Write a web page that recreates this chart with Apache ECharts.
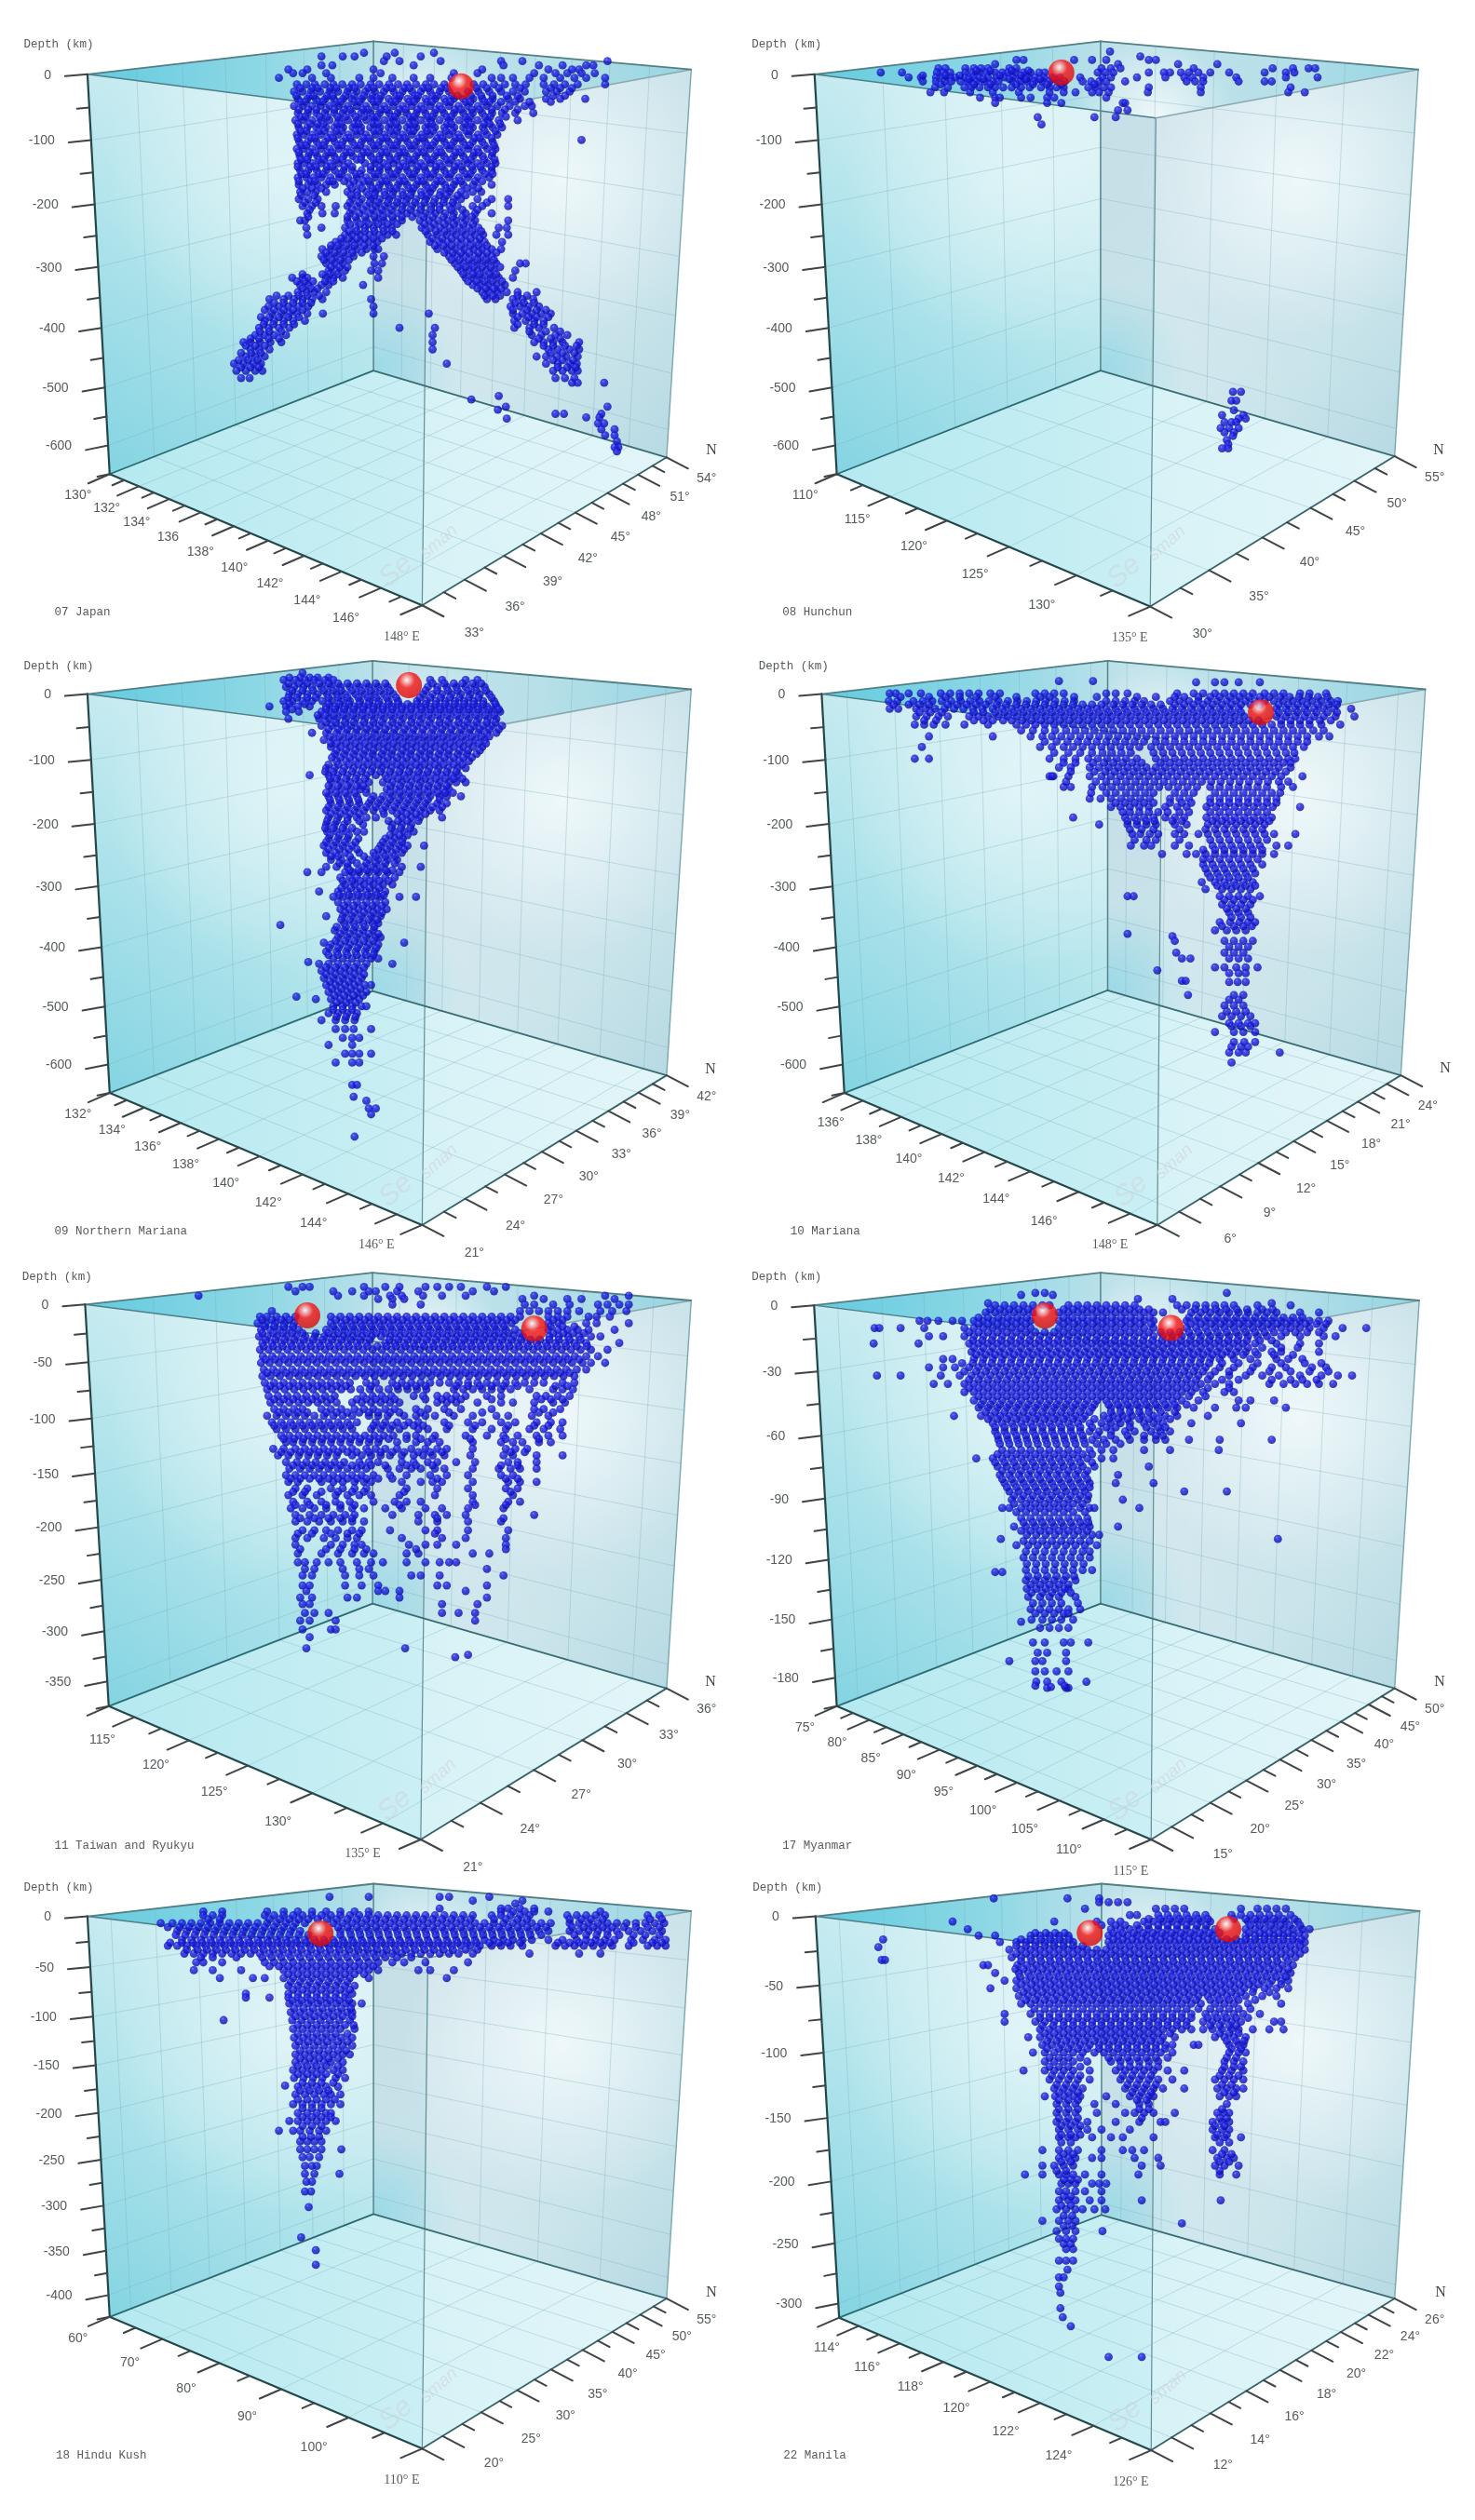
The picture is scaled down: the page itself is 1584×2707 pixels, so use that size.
<!DOCTYPE html>
<html><head><meta charset="utf-8">
<style>html,body{margin:0;padding:0;background:#fff}#c{width:1584px;height:2707px}#c canvas{filter:blur(.45px)}</style>
<script src="https://cdn.jsdelivr.net/npm/echarts@6/dist/echarts.min.js"></script>
</head><body><div id="c"></div>
<script>
// Every quake row: [apparent depth in km, view position across the box, ...]
const japanQuakes=[
[36,770,835,918],[30,680,725,750,818,890],[22,1105,1060,1285,932,845,812],[15,680,703,875,1065,1140,1190,1240,1255],
[8,610,650,790,1020,1160,1210,1225],[2,620,640,690,805,960,1010,1130,1175,1200,1230,1258],
[-6,590,660,700,760,790,830,875,910,955,1040,1060,1085,1120,1150,1185,1215,1240,1280],
[-17,628,648,666,687,705,724,745,763,784,802,823,842,861,880,901,918,940,1002,1022,1045,1068,1090,1112,1150,1172,1195,1222,1280],
[-29,622,640,658,677,697,715,735,755,773,793,812,833,851,872,890,910,930,950,990,1012,1035,1060,1085,1110,1155,1178,1205],
[-41,630,650,668,688,706,726,744,765,785,803,822,843,862,881,900,921,940,960,980,1001,1020,1042,1075,1100,1155,1185,1238],
[-53,622,641,660,678,698,716,736,755,774,794,813,832,852,871,891,910,930,950,970,990,1011,1030,1052,1078,1110,1125],
[-65,630,651,669,687,707,725,745,764,783,803,823,841,860,881,900,919,939,960,980,1000,1020,1041,1062,1090,1128],
[-77,625,642,660,680,697,717,736,756,775,792,813,832,851,872,890,911,930,950,971,990,1010,1032,1055,1095],
[-89,632,650,669,690,707,726,746,764,783,804,822,842,861,880,900,920,940,961,980,1000,1021,1042,1062],
[-101,628,643,661,679,699,716,737,755,774,794,813,833,852,871,892,909,931,950,970,991,1011,1030,1052],
[-110,1230],
[-113,633,651,670,688,708,725,745,765,784,803,822,841,862,881,899,920,940,960,979,1000,1020,1042],
[-125,628,642,660,680,698,717,735,756,774,793,813,832,851,871,891,910,930,951,970,990,1010,1031,1048],
[-137,634,652,671,689,707,727,746,764,784,803,823,842,860,880,901,920,939,960,980,1001,1021,1040],
[-149,630,644,661,680,699,716,737,772,794,812,832,853,871,890,911,930,950,970,990,1010,1030,1048],
[-161,635,652,670,690,708,727,745,765,784,803,822,842,862,880,900,921,940,960,979,1000,1020,1040],
[-173,630,648,663,680,699,718,736,755,775,793,813,831,851,872,891,910,929,950,971,990,1011,1035],
[-185,632,652,672,690,708,740,760,783,803,822,842,861,881,900,920,941,960,980,1001,1040],
[-197,635,650,668,690,735,755,775,794,813,832,851,871,891,910,932,951,975,1000,1018],
[-209,632,652,672,745,765,785,803,823,842,861,880,901,920,940,960,975,1010,1040,1075],
[-221,640,660,680,710,735,755,775,795,814,833,851,872,891,912,930,951,968,1000,1020,1075],
[-233,650,682,708,740,760,783,803,822,842,861,881,900,921,942,960,985,1005,1040],
[-245,635,645,735,755,775,795,812,832,850,888,908,927,947,965,985,1005,1075],
[-257,648,680,730,752,772,790,810,828,892,912,932,952,972,992,1012,1055,1072],
[-269,650,730,745,762,782,802,820,838,905,925,945,965,985,1005,1022,1050,1075],
[-281,710,725,745,762,780,798,910,930,948,968,988,1008,1025,1062],
[-293,682,700,718,738,755,775,792,800,925,945,962,982,1002,1020,1040,1060],
[-305,680,695,712,730,748,790,812,950,968,985,1005,1022,1040],
[-317,690,708,725,792,808,962,980,998,1015,1032,1050,1100,1112],
[-329,695,712,730,785,800,975,992,1010,1028,1045,1090],
[-341,618,640,650,690,705,725,800,985,1002,1020,1038,1055,1085],
[-353,635,652,680,695,768,1000,1015,1032,1050,1068],
[-365,630,648,665,690,1020,1035,1052,1072,1095,1135],
[-377,570,600,622,640,660,682,785,1030,1048,1085,1105,1128],
[-389,568,590,610,632,652,790,1080,1100,1118,1140],
[-401,575,595,612,628,650,683,790,907,1085,1105,1125,1145,1165],
[-413,560,580,600,620,645,1088,1112,1130,1150],
[-425,548,568,590,612,845,920,1088,1120,1140,1172],
[-437,540,560,580,605,915,1125,1145,1175,1200],
[-449,515,530,550,572,595,915,1130,1150,1170,1190,1225],
[-461,530,548,570,915,1160,1180,1205,1225],
[-473,520,540,560,1135,1155,1178,1198,1222],
[-485,495,515,535,552,945,1155,1180,1205,1220],
[-497,500,520,540,555,1170,1190,1210,1222],
[-509,510,528,1175,1195,1215],[-517,1210,1222,1278],
[-539,1055],[-545,997],[-557,1070,1285],[-562,1053],[-569,1175,1193,1272],[-575,1240,1268],[-577,1072],
[-585,1265,1278],[-595,1272,1300],[-605,1280,1300],[-615,1305],[-625,1308,1300],[-632,1305]];
const japanMore=[
[-23,635,661,672,699,711,738,750,779,790,817,829,856,866,895,906,933,945,1008,1030,1055,1100,1165,1185,1210],
[-36,627,655,663,692,704,731,749,770,788,806,838,846,877,884,915,925,956,968,996,1018,1042,1072,1095,1170,1195],
[-46,636,646,675,683,712,721,750,760,790,799,828,837,866,876,904,914,944,953,985,995,1025,1036,1060,1090,1120,1165],
[-59,632,652,669,690,707,728,741,768,779,806,818,845,858,883,896,922,935,962,975,998,1015,1040,1068,1095],
[-71,637,646,676,692,714,731,752,770,789,798,828,836,867,876,905,915,945,955,985,995,1026,1037,1070],
[-83,630,656,672,684,713,722,750,759,790,799,826,838,866,877,905,914,946,955,984,996,1024,1036,1058],
[-95,636,648,675,686,712,723,752,763,791,801,827,839,867,875,904,916,943,957,986,994,1025,1048],
[-107,630,658,666,694,704,732,741,770,780,809,818,846,857,886,895,925,936,964,974,1004,1015,1040],
[-119,638,648,675,685,714,723,750,762,790,800,828,838,867,877,905,915,945,955,985,994,1025,1045],
[-131,632,655,667,694,703,732,742,769,779,808,818,846,856,885,896,925,934,964,975,1003,1013,1042],
[-143,637,650,675,685,712,724,755,764,790,802,826,839,866,876,906,915,945,955,985,996,1024,1046],
[-155,630,657,668,692,703,729,745,784,803,820,845,858,884,897,922,935,962,976,998,1016,1040],
[-167,638,648,675,684,716,722,753,762,792,800,828,837,867,876,904,916,944,954,986,995,1026,1042],
[-179,632,657,666,696,704,728,748,770,780,808,818,846,856,885,895,925,934,964,975,1005,1020],
[-191,640,660,680,745,766,788,800,826,838,866,875,906,915,945,955,988,1012],
[-203,637,665,742,756,780,792,815,829,853,868,892,905,930,945,968,985],
[-215,645,668,740,760,782,800,820,840,858,878,898,918,938,958,1030],
[-227,655,745,768,788,808,828,850,868,890,912,930,955,978,1010],
[-239,652,735,752,772,792,810,830,850,872,896,915,938,958,978,998],
[-251,740,762,780,800,820,840,898,918,940,960,980,1000],
[-263,738,755,772,792,812,830,900,922,940,958,978,998,1018],
[-275,722,738,755,772,790,808,915,935,955,975,995,1015],
[-287,700,715,732,750,770,790,920,938,955,975,995,1012,1030],
[-299,690,708,726,745,765,940,958,975,992,1012,1030,1050],
[-311,685,702,720,738,955,972,992,1010,1028,1045],
[-323,700,718,735,968,985,1002,1020,1038,1058],
[-335,640,682,698,715,980,1000,1015,1035,1050],
[-347,628,645,662,688,705,990,1008,1025,1042,1062],
[-359,640,658,672,1010,1028,1045,1060],
[-371,585,610,632,650,675,1025,1042,1058,1095,1115],
[-383,580,600,620,640,658,1090,1108,1130],
[-395,560,580,600,620,640,1085,1115,1135,1155],
[-407,552,570,590,610,632,1095,1118,1135,1160],
[-419,558,578,600,622,1095,1130,1150],[-431,550,570,595,1120,1155,1185],[-443,530,548,568,590,1140,1165,1185],
[-455,520,540,560,1150,1170,1195,1220],[-467,510,532,552,1165,1190,1215],[-479,505,525,545,1170,1190,1212],[-491,510,530,548,1180,1200,1218]];
const japanEvents=[[975,-20]];
const hunchunQuakes=[
[38,788],[30,852],[24,590,605,712,750,780,870,885],[17,545,805,932,1015],
[10,425,440,482,500,515,530,575,590,770,790,810,965,1132,1175,1208,1222],
[3,303,348,422,435,450,482,497,512,528,545,560,572,588,605,620,638,650,762,778,795,870,902,915,938,955,975,1000,1040,1160,1178,1115],
[-5,362,388,420,435,450,462,482,498,512,530,548,565,582,598,615,630,648,665,682,725,772,790,845,905,945,962,985,1055,1160,1227],
[-12,392,420,438,452,472,488,505,522,540,552,582,598,612,628,645,660,678,692,730,748,765,780,820,950,968,985,1060,1115,1130],
[-22,418,445,480,495,512,530,545,562,580,600,618,642,660,675,690,742,758,775,790,870,980,1170],
[-30,408,437,492,540,595,660,690,715,750,765,785,868,980,1165,1200],
[-39,513,545,555,600,620,655,670,780],[-48,545,655,685,815,820],[-60,805,825],[-72,635,755,800],[-84,643],
[-532,1048,1065],[-547,1045,1055],[-563,1050],[-571,1025,1070],[-577,1075,1060],[-583,1030,1045,1055],[-593,1022,1040,1060],[-600,1030,1050],[-606,1048],[-613,1035],[-620,1038],[-627,1025,1038]];
const hunchunMore=[[-8,490,520,575,610,640,670],[-17,430,500,535,590,625,655,685,755],[6,505,535,580,615],[-2,392,440,470,555,600]];
const hunchunEvents=[[685,3]];
const nMarianaQuakes=[
[36,640],[28,612,635,655,672,695],[24,600,625,645,665,688,705,910,935,985,1010],
[12,605,622,642,660,680,700,720,740,760,780,800,820,905,925,945,965,985,1005,1025],
[0,612,630,650,672,692,712,730,752,772,792,812,832,895,915,935,955,975,995,1015,1035],
[-12,600,618,640,660,682,702,722,740,762,782,802,822,842,882,902,922,942,962,982,1002,1022,1045],
[-21,570,605,630,655,690,710,730,750,770,790,810,830,850,870,890,910,930,950,970,990,1010,1030,1050],
[-30,605,632,680,700,720,740,760,780,800,820,840,860,880,900,920,940,960,980,1000,1020,1040,1058],
[-42,610,675,695,712,732,752,772,792,812,832,852,872,892,912,932,952,972,992,1012,1032,1050],
[-54,680,702,722,742,762,782,802,822,842,862,882,902,922,942,962,982,1002,1022,1040,1062],
[-66,660,690,712,732,752,772,792,812,832,852,872,892,912,932,952,972,992,1012,1030,1050],
[-78,685,705,725,745,765,785,805,825,845,865,885,905,925,945,965,985,1005,1025],
[-90,700,720,740,760,780,800,820,840,860,880,900,920,940,960,980,1000,1020],
[-102,708,728,748,768,788,808,828,848,868,888,908,928,948,968,988,1008],
[-114,712,732,752,772,792,812,832,852,872,892,912,932,952,972,992],
[-126,690,708,728,748,768,788,808,828,848,868,888,908,928,948,968,985],
[-138,655,695,715,735,755,775,795,815,835,855,875,895,915,935,955,970],
[-150,700,720,740,760,780,810,830,850,870,890,910,930,950,965,985],
[-162,702,722,742,762,775,818,838,858,878,898,918,938,950],
[-174,695,715,735,755,790,810,830,850,870,890,910,930,945,975],
[-186,700,720,740,760,780,800,820,840,860,880,900,925,945],
[-198,690,710,730,750,770,790,810,830,850,870,890,910,930],
[-210,695,715,735,755,775,795,850,870,888,935],
[-222,690,708,728,768,830,850,870],[-234,692,712,732,755,770,835,855,875],
[-246,695,715,735,758,815,835,852],[-258,685,705,725,745,805,825,845,862,897],
[-270,690,710,730,760,790,810,830,850],[-282,700,722,745,780,800,820,840],
[-294,690,712,735,770,790,810,850,890],[-303,650,680,730,745,760,780,800,820,845],
[-312,720,740,755,775,795,815,835],[-324,730,750,770,790,810,830],
[-336,675,715,735,755,775,795,815],[-345,705,725,745,765,785,805,845,880],
[-354,715,735,755,775,795,815],[-366,720,738,758,778,798,818],
[-378,690,725,745,765,785,805],[-390,728,748,768,788,800],[-393,593],
[-402,708,728,748,768,790],[-414,715,735,755,775,795,805],[-423,685,855],
[-426,700,720,740,760,780,800],[-438,690,712,732,752,772,792],
[-450,705,725,745,765,785,800],[-456,652],[-459,675,695,715,735,755,775,830],[-471,680,700,720,740,760],
[-483,685,705,725,745,765],[-495,690,710,730,750,772,785],[-507,695,715,735,755,775],[-515,627],
[-519,700,720,740,760,668],[-531,705,725,745,765,775],[-543,695,715,735,755],[-555,680,710,730,750],
[-570,710,730,748,785],[-585,725,745,760],[-597,745,695],[-612,730,745,760,785],[-627,745,710,760],
[-665,745,755],[-685,748],[-692,775],[-705,780,795],[-715,785],[-753,750]];
const nMarianaMore=[
[18,610,632,650,675,695,715,735,755,775,795,815,915,940,960,978,1000,1018],
[6,618,640,662,685,705,722,745,765,785,805,825,900,925,948,968,990,1008,1028],
[-6,610,628,650,668,695,715,735,758,778,796,818,838,888,910,932,952,972,992,1012,1040],
[-17,612,645,695,718,738,760,780,800,822,842,862,882,900,922,942,962,982,1002,1022,1048],
[-26,618,690,708,728,748,768,790,810,830,850,870,892,912,932,952,972,992,1012,1035,1055],
[-36,672,688,706,726,746,766,786,806,826,846,866,886,906,926,946,966,986,1006,1026,1045],
[-48,690,710,730,748,770,790,808,830,848,870,888,908,930,948,970,988,1008,1030,1048],
[-60,695,716,735,755,776,795,815,835,856,875,895,916,935,955,976,995,1015,1035,1055],
[-72,698,718,738,758,778,798,818,838,858,878,898,918,938,958,978,998,1018,1035],
[-84,700,712,732,752,772,792,812,832,852,872,892,912,932,952,972,992,1012,1028],
[-96,712,732,752,772,790,812,830,852,870,892,910,932,950,972,990,1015],
[-108,702,720,740,760,780,800,820,840,860,880,900,920,940,960,980,998],
[-120,695,716,738,758,778,800,818,840,858,880,898,920,938,960,978],
[-132,688,705,725,745,765,785,805,825,845,865,885,905,925,945,965],
[-144,698,712,732,752,772,820,842,860,882,900,922,942,960,978],
[-156,695,715,735,755,768,826,846,866,886,906,926,945],
[-168,690,710,730,750,775,825,845,865,885,905,925,942,958],
[-180,698,718,738,758,785,805,825,845,865,885,905,930],
[-192,695,715,735,755,775,795,815,835,855,875,895,915,935],
[-204,700,720,740,760,812,840,860,880,900],[-216,692,712,735,760,822,842,862,885],
[-228,688,705,725,745,828,848,868],[-240,698,718,738,825,845,862],[-252,690,710,730,752,810,830,850],
[-264,695,718,738,755,800,818,838,855],[-276,700,715,740,770,795,815,835],[-288,718,735,755,775,795,815,835],
[-300,740,758,776,796,816,830],[-318,725,745,762,782,802,822],[-330,722,742,762,782,802],
[-342,718,738,758,778,798,812],[-360,728,748,768,788,808],[-372,730,750,770,790,808],[-384,722,740,760,780,798],
[-396,712,732,752,772,792],[-408,720,740,760,780,800],[-420,710,730,750,770,790],[-432,696,716,736,756,776,796],
[-444,695,715,735,755,775,790],[-465,690,710,730,750,770],[-477,690,710,730,750,770],[-489,698,718,738,758],
[-501,702,722,742,762],[-513,708,728,748,768],[-525,712,732,752],[-537,705,725,745],[-549,712,732,752]];
const nMarianaEvents=[[865,15]];
const marianaQuakes=[
[22,680,752],[20,970,1010,1030,1060,1105],
[1,322,335,362,388,430,450,470,490,510,535,555,630,650,670,690,780,800,825,930,965,985,1010,1030,1050,1070,1090,1115,1135,1155,1190,1210,1245],
[-12,320,338,372,392,412,432,452,472,492,512,532,552,572,592,612,632,652,672,692,712,780,800,820,840,860,915,935,955,975,995,1015,1035,1055,1075,1095,1115,1135,1155,1175,1195,1215,1235,1255,1270],
[-25,322,340,378,398,418,438,458,478,498,518,540,560,580,600,620,640,660,680,700,720,740,760,780,800,820,840,860,880,900,920,940,960,980,1000,1020,1040,1060,1140,1160,1180,1200,1220,1240,1262,1298],
[-38,378,400,425,445,490,510,530,552,572,592,612,632,652,672,692,712,732,752,772,792,812,832,852,872,892,912,932,952,972,992,1012,1032,1052,1072,1140,1160,1180,1200,1220,1240,1265,1305],
[-52,375,395,415,440,480,530,590,610,630,650,670,690,710,730,750,770,790,810,830,850,870,890,910,930,950,970,990,1010,1030,1050,1070,1090,1110,1130,1150,1170,1190,1210,1235,1275],
[-72,405,540,620,645,665,685,705,725,745,765,785,805,825,845,865,885,905,925,945,965,985,1005,1025,1045,1065,1085,1105,1125,1145,1165,1185,1205,1230,1252],
[-90,390,640,665,690,710,730,750,770,790,810,830,850,875,895,915,935,955,975,995,1015,1035,1055,1075,1095,1115,1135,1155,1175,1198],
[-110,375,405,660,690,715,742,762,782,802,822,845,885,905,925,945,965,985,1005,1025,1045,1065,1085,1105,1125,1145,1165,1180],
[-125,680,705,745,765,785,805,825,845,865,885,905,925,945,965,985,1005,1025,1045,1065,1085,1105,1125,1145,1170],
[-140,660,665,668,700,745,770,790,810,830,850,870,890,910,930,950,970,990,1010,1030,1050,1070,1090,1110,1130,1150,1195],
[-158,690,705,750,772,792,812,832,852,872,892,912,932,952,972,1000,1020,1040,1060,1080,1100,1120,1150,1175],
[-178,745,768,790,812,832,852,872,915,935,955,1000,1020,1040,1060,1080,1100,1120,1140],
[-192,790,810,830,850,870,905,930,950,992,1012,1032,1052,1072,1092,1112,1132,1190],
[-210,710,820,840,860,880,905,925,945,992,1012,1032,1052,1072,1092,1112,1130],
[-222,765,825,845,865,885,925,950,995,1015,1035,1055,1075,1095,1115],
[-238,835,852,872,890,925,945,975,995,1015,1035,1055,1075,1095,1115,1135,1180],
[-258,832,860,875,925,955,1005,1025,1045,1065,1085,1105,1140,1165],
[-272,898,950,970,990,1010,1030,1050,1070,1090,1110,1135],
[-290,985,1005,1025,1045,1065,1085,1110],[-305,995,1015,1035,1055,1075,1095],
[-320,982,1010,1030,1050,1070,1090],[-332,990,1025,1045,1065,1085],
[-344,825,838,1020,1040,1060,1080,1105],[-358,1025,1045,1065,1085],[-372,1040,1060,1080],
[-388,1020,1042,1062,1080,1095],[-402,1010,1035,1055,1075],[-408,825],[-412,920],
[-420,925,1030,1050,1070,1090],[-440,1030,1050,1070,928],[-450,940,958,1040,1060,1080],
[-465,1010,1030,1055,1075,1100],[-470,888],[-490,1040,1058,1075],[-488,940,948],
[-512,953,1050,1070],[-530,1030,1050,1070],[-548,1025,1045,1065,1085],[-560,1040,1060,1080,1095],
[-575,1010,1050,1070,1095],[-592,1050,1072,1095],[-610,1040,1060,1075,1147],[-627,1045]];
const marianaMore=[
[-5,345,405,440,470,505,545,590,640,660,712,760,845,885,925,945,975,1000,1020,1042,1062,1082,1105,1125,1148,1168,1188,1208,1228,1248],
[-18,330,362,385,405,445,465,485,505,525,548,568,590,610,630,650,670,690,710,730,750,770,795,815,835,855,875,895,925,945,965,985,1005,1025,1045,1065,1085,1105,1145,1165,1185,1205,1228,1250,1268],
[-31,385,408,432,500,520,545,565,585,605,625,645,665,685,705,725,745,765,785,805,825,845,865,885,905,925,945,965,985,1005,1025,1045,1065,1145,1165,1185,1205,1225,1248,1268],
[-45,395,420,500,520,540,562,580,602,622,642,662,682,702,722,742,762,782,802,822,842,862,882,902,922,942,962,982,1002,1022,1042,1062,1082,1102,1150,1170,1190,1210,1232,1255],
[-62,600,625,650,672,695,715,735,755,775,795,815,835,855,875,895,915,935,955,975,995,1015,1035,1055,1075,1095,1115,1135,1155,1175,1195,1218,1240],
[-81,650,675,698,720,740,760,780,800,820,840,860,885,905,925,945,965,985,1005,1025,1045,1065,1085,1105,1125,1145,1165,1185,1205],
[-100,670,700,725,750,772,792,812,832,880,900,920,940,960,980,1000,1020,1040,1060,1080,1100,1120,1140,1160,1178],
[-117,690,715,752,775,795,815,835,855,895,915,935,955,975,995,1015,1035,1055,1075,1095,1115,1135,1155,1170],
[-132,705,755,778,798,818,838,858,878,898,918,938,958,978,998,1018,1038,1058,1078,1098,1118,1138,1160],
[-149,695,758,780,802,822,842,862,882,902,922,942,962,982,1002,1022,1042,1062,1082,1102,1122,1145,1165],
[-168,748,780,800,822,842,862,880,925,945,965,1010,1030,1050,1070,1090,1110,1130,1148],
[-185,800,820,840,860,880,915,940,960,1000,1020,1040,1060,1080,1100,1120,1140],
[-201,815,830,850,870,890,910,935,955,1000,1020,1040,1060,1080,1100,1120],
[-216,825,845,865,882,920,940,1005,1025,1045,1065,1085,1105,1125],
[-230,830,855,880,935,990,1010,1030,1050,1070,1090,1110],
[-248,840,865,885,935,1000,1020,1040,1060,1080,1100,1120],[-265,985,1010,1030,1050,1070,1090,1110],
[-281,985,1000,1020,1040,1060,1080,1100],[-297,990,1010,1030,1050,1070,1090],[-312,1000,1020,1040,1060,1080],
[-326,1015,1035,1055,1075,1095],[-350,1030,1050,1070,1090],[-365,1035,1055,1075],[-380,1045,1065,1085],
[-395,1025,1050,1070,1088],[-430,1040,1060,1080],[-475,1040,1060,1075],[-520,1040,1060],[-540,1035,1055,1075],
[-565,1045,1065,1085],[-600,1045,1065,1080]];
const marianaEvents=[[1107,-31]];
const taiwanQuakes=[
[16,610,640,655,770,815,845,900,925,950,975,1030,1070],[12,625,705,745,780,795,840,885,1000,1045],
[8,420,715,770,825,850,895,935,985,1130,1280,1330],[5,800,830,855,1105,1150,1200,1230,1300],
[0,890,830,1110,1130,1170,1205,1265,1285,1310,1330],[-6,575,1100,1120,1140,1160,1180,1200,1225,1270,1295,1325],
[-11,550,565,585,605,625,700,720,740,760,780,800,820,840,860,880,900,920,940,960,980,1000,1020,1040,1060,1080,1100,1160,1180,1200,1245,1262,1290],
[-17,545,562,582,602,622,700,722,742,762,782,802,822,842,862,882,902,922,942,962,982,1002,1022,1042,1062,1082,1160,1182,1240,1262,1330],
[-23,552,572,592,612,632,690,710,730,750,770,790,810,830,850,870,890,910,930,950,970,990,1010,1030,1050,1070,1090,1160,1180,1200,1222,1245,1300],
[-29,548,566,586,606,626,646,666,686,706,726,746,766,786,806,826,846,866,886,906,926,946,966,986,1006,1026,1046,1066,1086,1106,1162,1182,1202,1225,1250,1270],
[-35,555,575,595,615,635,655,675,695,715,735,755,775,815,835,855,875,895,915,935,955,975,995,1015,1035,1055,1075,1095,1115,1135,1155,1175,1195,1215,1240,1310],
[-41,550,568,588,608,628,648,668,688,708,728,748,768,788,808,828,848,868,888,908,928,948,968,988,1008,1028,1048,1068,1088,1108,1128,1148,1168,1188,1208,1228,1250,1285],
[-47,556,576,596,616,636,656,676,696,716,736,756,776,796,816,836,856,876,896,916,936,956,976,996,1016,1036,1056,1076,1096,1116,1136,1156,1176,1196,1216,1240,1265],
[-53,552,570,590,610,630,650,670,690,710,730,750,770,790,810,830,850,870,890,910,930,950,970,990,1010,1030,1050,1070,1090,1110,1130,1150,1170,1190,1210,1232,1250,1280],
[-59,558,578,598,618,638,658,678,698,718,738,758,778,798,818,838,858,878,898,918,938,958,978,998,1018,1038,1058,1078,1098,1118,1138,1158,1178,1198,1220,1240],
[-65,555,572,592,612,632,652,672,692,712,732,752,772,792,812,832,852,872,892,912,932,952,972,992,1012,1032,1052,1072,1092,1112,1132,1152,1172,1192,1215],
[-71,560,580,600,620,640,660,680,700,720,740,775,795,830,850,870,890,910,930,950,970,990,1010,1030,1050,1070,1090,1110,1130,1150,1190,1215],
[-77,565,582,602,622,642,662,682,702,722,742,762,782,802,822,842,862,882,902,960,980,1000,1020,1040,1060,1080,1120,1170,1190,1212],
[-83,568,588,608,628,648,668,688,708,768,788,808,828,875,895,925,945,965,985,1030,1060,1135,1155,1180,1205],
[-89,572,592,612,632,652,672,692,712,745,765,785,805,825,845,925,945,965,1010,1060,1085,1130,1170,1195],
[-95,580,600,622,640,680,700,722,750,770,790,815,835,880,905,940,975,1040,1130,1150,1185],
[-101,565,585,605,625,645,665,685,705,725,745,780,800,820,855,880,900,920,960,1000,1050,1075,1125,1160],
[-107,575,595,615,635,655,675,695,715,735,755,795,815,840,865,885,940,990,1020,1060,1090,1135,1165,1190],
[-113,585,605,625,645,665,685,705,725,745,785,805,825,845,885,905,945,1000,1040,1070,1120,1150,1185],
[-119,595,612,632,652,672,692,712,732,752,772,792,812,832,860,880,920,985,1030,1065,1095,1135,1160,1190],
[-125,605,620,640,660,680,700,720,740,760,780,800,840,880,905,930,1000,1060,1085,1105,1140,1165],
[-131,578,600,625,645,665,685,705,725,745,775,795,815,840,870,900,925,945,1000,1070,1090,1115],
[-137,588,610,632,652,672,692,712,745,765,785,805,825,850,875,895,915,940,995,1065,1085,1135,1190],
[-143,605,628,648,668,688,708,728,760,780,800,850,875,905,925,965,1005,1075,1095,1135],
[-149,612,635,655,675,695,715,735,755,775,820,845,870,890,920,940,1000,1055,1080,1100,1135],
[-155,605,625,645,665,685,705,725,745,765,790,825,860,910,945,990,1060,1085],
[-161,610,630,680,705,725,750,770,785,850,890,915,935,1000,1075,1100,1135],
[-167,625,650,700,725,750,775,860,925,990,1070,1095],[-173,610,640,670,710,735,760,785,845,920,1000,1085],
[-179,620,650,680,710,740,790,835,860,890,1000,1075,1100],[-185,615,640,665,690,720,745,770,815,850,900,935,990,1065],
[-191,625,655,680,705,730,750,830,885,920,945,985,1130],[-197,625,650,675,700,725,745,770,885,925,990,1060],
[-205,640,665,690,715,745,765,825,900,925,990,1075],[-212,625,650,685,710,735,755,850,935,985,1070],
[-218,625,700,725,750,765,865,900,925,965,1070],[-226,630,680,715,745,770,790,860,885,1000,1035],
[-234,630,645,670,695,720,755,785,810,860,900,930,950,965],[-240,645,665,725,760,780,1030],
[-246,640,660,730,760,790,870,890,930,1065],[-255,640,655,730,765,800,925,945,1030],
[-260,648,800,815,845,985],[-266,635,660,735,755,845,1030],[-272,640,655,935,1010],[-280,645,665,695,935,970,1005],
[-287,635,655,710,1005],[-295,640,700,710],[-302,655],[-312,648,857],[-318,990],[-320,963]];
const taiwanMore=[
[-14,555,575,595,612,710,732,752,772,792,812,832,852,872,892,912,932,952,972,992,1012,1032,1052,1072,1090,1170,1190],
[-20,560,580,600,620,705,726,746,766,786,806,826,846,866,886,906,926,946,966,986,1006,1026,1046,1066,1165,1190,1215],
[-26,555,578,598,618,640,668,695,716,736,756,776,796,816,836,856,876,896,916,936,956,976,996,1016,1036,1056,1076,1100,1170,1192,1212,1235],
[-32,562,582,602,622,642,662,682,702,722,742,762,782,824,842,862,882,902,922,942,962,982,1002,1022,1042,1062,1082,1102,1122,1142,1162,1182,1205,1228],
[-38,558,578,598,618,638,658,678,698,718,738,758,778,798,818,838,858,878,898,918,938,958,978,998,1018,1038,1058,1078,1098,1118,1138,1158,1178,1198,1220,1242],
[-50,562,582,602,622,642,662,682,702,722,742,762,782,802,822,842,862,882,902,922,942,962,982,1002,1022,1042,1062,1082,1102,1122,1142,1162,1182,1202,1225],
[-62,565,585,605,625,645,665,685,705,725,745,765,785,805,825,845,865,885,905,925,945,965,985,1005,1025,1045,1065,1085,1105,1125,1145,1165,1185,1205],
[-74,572,592,612,632,652,672,692,712,732,785,840,860,880,900,965,990,1015,1040,1065,1095,1175,1200],
[-86,580,600,620,640,660,680,700,755,775,795,815,835,900,935,955,975,1040,1145,1165,1190],
[-98,590,610,630,650,690,712,735,760,780,800,825,845,890,950,1020,1140,1170],
[-110,580,600,620,640,660,680,700,720,740,790,810,830,855,875,895,950,1005,1075,1130,1160],
[-122,600,622,642,662,682,702,722,742,762,782,802,822,860,890,915,995,1070,1140],
[-134,595,615,635,655,675,695,715,735,755,780,805,830,855,885,910,935,1080,1110],
[-146,620,640,660,680,700,720,745,765,785,815,860,880,915,1060,1095],
[-158,615,635,655,675,695,715,735,755,775,800,830,925,1070,1095],[-170,620,645,680,715,745,770,855,1080],
[-182,625,655,690,720,750,845,1005,1070],[-194,635,665,695,720,745,925,1065],[-208,630,660,700,735,760,920],
[-222,635,690,720,750,775,880,1070]];
const taiwanEvents=[[650,-10],[1130,-22]];
const myanmarQuakes=[
[6,630,650,1035],[5,600,667],[3,847,920],[1,530,1130],[0,545,565,585,605,625,645,660,700,720,740,760,780,800,820,840,930,950,970,990,1010,1030,1050,1100,1170],
[-3.5,525,545,565,585,605,625,680,700,720,740,760,780,800,820,840,860,880,900,960,980,1000,1020,1040,1060,1080,1100,1120,1140,1190,1230],
[-7.5,385,402,425,455,475,500,520,540,560,580,600,620,680,700,720,740,760,780,800,820,840,860,880,950,970,990,1010,1030,1050,1070,1090,1110,1130,1150,1170,1190,1210,1230,1250],
[-11,290,300,345,395,480,500,520,540,560,580,600,620,680,700,720,740,760,780,800,820,840,860,880,950,970,990,1010,1030,1050,1070,1090,1110,1130,1150,1170,1190,1210,1240,1280,1330],
[-15,405,435,480,500,520,540,560,580,600,620,640,660,680,700,720,740,760,780,800,820,840,860,880,900,920,940,960,980,1000,1020,1040,1060,1080,1100,1120,1150,1190,1240,1265],
[-18.5,288,383,490,510,530,550,570,590,610,630,650,670,690,710,730,750,770,790,810,830,850,870,890,910,930,950,970,990,1010,1030,1050,1070,1095,1140,1190,1230],
[-22.5,495,515,535,555,575,595,615,635,655,675,695,715,735,755,775,795,815,835,855,875,895,915,935,955,975,995,1015,1035,1055,1075,1095,1130,1150,1230],
[-26,435,455,500,520,540,560,580,600,620,640,660,680,700,720,740,760,780,800,820,840,860,880,900,920,940,960,980,1000,1020,1050,1085,1140,1165,1195],
[-30,405,435,460,490,510,530,550,570,590,610,630,650,670,690,710,730,750,770,790,810,830,850,870,890,910,930,950,970,990,1020,1050,1090,1130,1160,1215,1245],
[-34,295,345,430,470,495,515,535,555,575,595,615,635,655,675,695,715,735,755,775,795,815,835,855,875,895,915,935,955,975,1000,1040,1075,1110,1145,1190,1235,1270,1300],
[-38,415,445,480,500,520,540,560,580,600,620,640,660,680,700,720,740,760,780,800,820,840,860,880,900,920,940,960,980,1010,1040,1125,1155,1180,1205,1230,1260],
[-42,480,500,520,540,560,580,600,620,640,660,680,700,720,740,760,780,800,820,840,860,880,900,920,940,960,985,1030,1050],
[-46,500,520,540,560,580,600,620,640,660,680,700,720,740,760,780,800,820,840,860,880,900,920,940,975,1060,1085,1135],
[-49.5,510,530,550,570,590,610,630,650,670,690,710,730,750,790,810,830,850,870,890,910,930,965,1010,1055,1075,1160],
[-53.5,458,515,535,555,575,595,615,635,655,675,695,715,735,775,795,815,835,855,880,905,930,995],
[-57,540,560,580,600,620,640,660,680,700,720,745,770,790,810,830,860,880,900,960,1065],
[-61,545,565,585,605,625,645,665,685,705,725,745,765,790,820,840,875,895,915],
[-65,552,572,592,612,632,652,672,692,712,732,750,775,800,830,860,885,905,955,1020,1130],
[-70,560,580,600,620,640,660,680,700,720,745,770,795,860,915,1018],[-74,505,540,560,580,600,620,640,660,680,700,720,740,770,795],
[-78,550,570,590,610,630,650,670,690,710,730,755,870],[-82,555,575,595,615,635,655,675,695,715,735,805],
[-86,565,585,605,625,645,665,685,705,725,745,800,880],[-90,575,595,615,635,655,675,695,715,735,945,1035],
[-94,580,600,620,640,660,680,700,720,740,815],[-98,560,575,600,620,640,660,680,700,725,745,755,850],
[-103,600,620,640,660,680,700,720,740],[-107,585,610,630,650,670,690,710,730,745,805],
[-111,612,632,652,672,692,712,732,750,765],[-113,557,1143],[-116,590,615,635,655,675,695,715,735,760],
[-122,605,625,645,665,685,705,725,745],[-128,610,630,650,670,690,710,730,750],[-129,545,560],
[-133,610,630,650,670,690,715],[-137,612,632,652,672,692,700],[-141,615,640,660,680,715],
[-147,620,640,660,680,700,725],[-152,622,645,665,685,710],[-156,640,660,680,700],
[-153,600],[-163,625,650,690,705,742],[-168,635,655,695],[-172,575,630,645,695],
[-177,630,650,675,700],[-182,632,655,685,738],[-185,655,700],[-184,630],[-185,695],
[-184.5,663],[-184,692]];
const myanmarMore=[
[-2,535,555,575,595,615,690,710,730,750,770,790,810,830,850,870,940,968,990,1012,1034,1056,1078,1110,1132],
[-6,510,530,552,572,592,612,690,708,730,752,772,792,812,832,852,872,955,975,995,1015,1035,1055,1075,1095,1115,1135,1155,1175,1195],
[-9,510,530,550,570,590,610,690,712,732,752,772,792,812,832,852,875,958,980,1002,1022,1042,1062,1082,1102,1122,1142,1162,1182,1202,1225,1245],
[-13,490,510,530,550,570,590,610,630,650,670,690,710,730,750,770,790,810,830,850,870,895,915,935,955,975,995,1015,1035,1055,1075,1095,1115,1135,1160,1180,1205,1230],
[-17,498,518,538,558,578,598,618,638,658,678,698,718,738,758,778,798,818,838,858,878,898,918,938,958,978,998,1018,1038,1058,1078,1105,1130],
[-20.5,500,520,540,560,580,600,620,640,660,680,700,720,740,760,780,800,820,840,860,880,900,920,940,960,980,1000,1020,1040,1060,1080,1110,1150,1185],
[-24,505,525,545,565,585,605,625,645,665,685,705,725,745,765,785,805,825,845,865,885,905,925,945,965,985,1005,1025,1045,1070,1100,1135,1175],
[-28,475,498,518,538,558,578,598,618,638,658,678,698,718,738,758,778,798,818,838,858,878,898,918,938,958,978,998,1025,1060,1100,1150,1200,1235],
[-32,480,505,525,545,565,585,605,625,645,665,685,705,725,745,765,785,805,825,845,865,885,905,925,945,965,985,1010,1040,1085,1125,1170,1210,1250],
[-36,490,510,530,550,570,590,610,630,650,670,690,710,730,750,770,790,810,830,850,870,890,910,930,950,970,995,1025,1060,1130,1170,1195,1225],
[-40,490,510,530,550,570,590,610,630,650,670,690,710,730,750,770,790,810,830,850,870,890,910,930,950,970,995,1040],
[-44,510,530,550,570,590,610,630,650,670,690,710,730,750,770,790,810,830,850,870,890,910,930,955,990],
[-48,515,535,555,575,595,615,635,655,675,695,715,735,755,785,805,825,845,865,885,905,925,950],
[-51.5,525,545,565,585,605,625,645,665,685,705,725,745,790,810,830,850,870,895,925],
[-55,530,550,570,590,610,630,650,670,690,710,730,755,785,805,825,850,870,890,915],
[-59,545,565,585,605,625,645,665,685,705,725,750,780,800,830,865,890,905],
[-63,550,570,590,610,630,650,670,690,710,730,760,790,825,860,885,900],
[-67,555,575,595,615,635,655,675,695,715,735,760,780,810],[-72,550,570,590,610,630,650,670,690,710,730,750],
[-76,545,565,585,605,625,645,665,685,705,725,750],[-80,560,580,600,620,640,660,680,700,720,740],
[-84,560,580,600,620,640,660,680,700,720,740],[-88,570,590,610,630,650,670,690,710,730,745],
[-92,585,605,625,645,665,685,705,725,742],[-96,585,610,630,650,670,690,710,730],[-100,590,610,630,650,670,690,710,735],
[-105,605,625,645,665,685,705,725,742],[-109,600,620,640,660,680,700,720,740],[-114,605,625,645,665,685,705,725,745],
[-119,610,630,650,670,690,710,730,745],[-125,612,632,652,672,692,712,732],[-131,615,635,655,675,695,712],
[-135,620,640,660,680,700],[-139,622,645,665,685,705],[-144,625,645,665,685,720],[-149,630,650,670,690,700]];
const myanmarEvents=[[650,-5],[917,-11]];
const hinduKushQuakes=[
[20,697,780,930,950,1035],[16,1000,1105],[13,1090],[8,930,1060,1075,1100,1130],
[5,430,470,565,600,630,660,690,720,750,780,1060,1085,1110,1130,1160,1270],
[1,430,450,470,560,580,600,620,640,660,680,700,720,740,760,780,800,820,840,860,880,900,920,940,960,980,1000,1040,1060,1080,1100,1120,1200,1220,1240,1260,1280,1370,1395],
[-7,340,365,385,405,425,445,465,485,505,525,545,565,585,605,625,645,705,725,745,765,785,805,825,845,865,885,905,925,945,965,985,1005,1025,1045,1065,1085,1105,1125,1145,1165,1205,1225,1245,1265,1285,1305,1325,1345,1365,1385,1405],
[-15,375,395,415,435,455,475,495,515,535,555,575,595,615,635,720,740,760,780,800,820,840,860,880,900,920,940,960,980,1000,1020,1040,1060,1080,1100,1120,1140,1160,1205,1225,1245,1265,1285,1305,1330,1355,1380,1400],
[-24,385,405,425,445,465,485,505,525,545,565,585,605,625,645,665,685,705,725,745,765,785,805,825,845,865,885,905,925,945,965,985,1005,1025,1045,1065,1085,1105,1125,1160,1190,1220,1240,1260,1280,1300,1335,1360,1385,1408],
[-30,355,375,395,415,435,455,475,495,515,535,555,575,595,615,635,655,675,695,715,735,755,775,795,815,835,855,875,895,915,935,955,975,995,1015,1040,1060,1080,1105,1175,1195,1215,1235,1255,1275,1295,1330,1370,1390,1408],
[-38,390,410,430,450,470,490,510,530,550,570,590,610,630,650,670,690,710,730,750,770,790,810,830,850,870,890,910,930,950,970,1000,1120,1225,1270],
[-47,415,430,470,560,580,600,620,640,660,680,700,720,740,760,780,800,830,855,900,990],
[-55,410,450,510,600,620,640,660,680,700,720,740,760,780,800,885,910,960],
[-63,465,535,560,600,620,640,660,680,700,720,740,780,945],[-71,610,630,650,670,690,710,730,750],
[-79,520,610,630,650,670,690,710,730,745],[-83,520,570,610,630,650,670,690,710,730],
[-89,612,632,652,672,692,712,732,745,765],[-98,615,635,655,675,695,715,735,745],
[-106,473,618,638,658,678,698,718,740],[-115,620,640,660,680,700,720,750],[-124,622,642,662,682,702,722,745],
[-132,625,645,665,685,705,725,745],[-141,625,645,665,685,705,725,740],[-149,625,645,665,685,700,725],
[-157,620,640,660,680,705,725],[-165,622,642,662,682,710,730],[-174,630,650,670,690,715],[-173,603],
[-182,625,645,665,685,700,720],[-192,620,640,660,680,700,720],[-201,630,650,670,690,700],
[-209,612,630,650,670,690,710],[-219,590,620,635,655,675,690],[-230,635,650,665,680],
[-238,635,650,665,680,722],[-246,640,655,675],[-255,645,660,670],[-263,645,665,718],[-271,648,660],
[-281,645,658],[-297,653],[-328,637],[-341,668],[-356,668]];
const hinduKushMore=[
[-3,440,465,570,592,612,632,652,672,692,712,735,755,775,795,815,835,855,875,895,915,935,955,975,995,1045,1070,1095,1115,1205,1230,1250,1275,1375,1400],
[-11,355,380,400,420,440,460,480,500,520,540,560,580,600,620,715,735,755,775,795,815,835,855,875,895,915,935,955,975,995,1015,1035,1055,1075,1095,1115,1135,1155,1210,1235,1255,1275,1295,1320,1345,1370,1395],
[-19,372,392,412,432,452,472,492,512,532,552,572,592,612,632,652,720,742,762,782,802,822,842,862,882,902,922,942,962,982,1002,1022,1042,1062,1082,1102,1122,1145,1215,1240,1262,1285,1310,1340,1365,1395],
[-27,360,385,408,428,448,468,488,508,528,548,568,588,608,628,648,668,688,708,728,748,768,788,808,828,848,868,888,908,928,948,968,988,1008,1035,1055,1075,1100,1180,1205,1225,1250,1270,1290,1340,1380,1400],
[-34,395,418,438,458,478,498,518,538,558,578,598,618,638,658,678,698,718,738,758,778,798,818,838,858,878,898,918,938,958,985,1010],
[-42,425,450,500,555,575,595,615,635,655,675,695,715,735,755,775,795,815,840,870],
[-51,570,590,610,630,650,670,690,710,730,750,770,790],[-59,610,630,650,670,690,710,730,750,770],
[-67,615,635,655,675,695,715,735],[-75,620,640,660,680,700,720,740],[-86,618,638,658,678,698,718,738],
[-94,622,642,662,682,702,722,742],[-102,625,645,665,685,705,725,745],[-111,630,650,670,690,710,730,748],
[-120,630,650,670,690,710,735],[-128,632,652,672,692,715,735],[-137,635,655,675,695,715,732],
[-145,635,655,675,695,715],[-153,630,650,670,690,715],[-161,630,650,670,690,715],[-170,640,660,680,705],
[-178,635,655,675,695],[-187,630,650,670,690,708],[-196,640,660,680],[-205,640,660,680,700],[-214,640,660,680],
[-225,640,658,675]];
const hinduKushEvents=[[678,-17.5]];
const manilaQuakes=[
[14,765,542,698],[11,765,785,805,825],[6,735,885,905,925,945,1065,1100,1120,1140,1160],
[1,830,845,890,910,930,950,970,990,1045,1065,1085,1105,1125,1145,1170],[-4,455,670,760,790,810,860,880,900,920,940,960,980,1000,1080,1100,1120,1140,1160,1185],
[-10,487,790,810,830,850,870,890,910,930,950,970,990,1010,1075,1095,1115,1135,1155,1175,1195,1210],
[-15,510,545,620,640,660,680,700,785,805,825,845,865,885,905,925,945,965,985,1005,1075,1095,1115,1135,1155,1175,1200],
[-18,308],[-20,555,590,610,630,650,670,690,710,785,805,825,845,865,885,905,925,945,965,985,1005,1025,1045,1065,1085,1105,1125,1145,1165,1185,1200],
[-24,298],[-26,575,600,620,640,660,680,700,720,740,760,780,800,820,840,860,880,900,920,940,960,980,1000,1020,1040,1060,1080,1100,1120,1140,1160,1180,1200],
[-32,580,600,620,640,660,680,700,720,740,760,780,800,820,840,860,880,900,920,940,960,980,1000,1020,1040,1060,1080,1100,1120,1140,1160,1180],
[-34,305,312],[-38,520,530,592,612,632,652,672,692,712,732,752,772,792,812,832,852,872,892,912,932,952,972,992,1012,1032,1052,1072,1092,1112,1132,1152,1175],
[-44,545,595,615,635,655,675,695,715,735,755,775,795,815,835,855,875,895,915,935,955,975,995,1015,1035,1055,1075,1095,1115,1135,1155,1170],
[-50,565,590,610,630,650,670,690,710,730,750,770,790,810,830,850,870,890,910,930,950,970,990,1010,1030,1050,1070,1090,1110,1130,1150,1165],
[-56,535,590,612,632,652,672,692,712,732,752,772,792,812,832,852,872,892,912,932,952,972,992,1012,1032,1052,1072,1092,1115,1140,1165],
[-62,595,615,635,655,675,695,715,735,755,775,795,815,835,855,875,895,915,935,955,975,995,1015,1035,1055,1075,1110,1140],
[-68,600,620,640,660,680,700,720,740,760,780,800,820,840,860,880,900,920,940,960,980,1010,1030,1050,1080,1150],
[-76,565,620,640,660,680,700,720,740,760,780,800,820,840,860,880,900,920,940,960,990,1010,1030,1050,1070,1105],
[-82,565,630,650,670,690,710,730,750,770,790,810,830,850,870,890,910,930,950,985,1005,1025,1045,1065,1135,1150],
[-88,640,660,680,700,720,740,760,780,800,820,840,860,880,900,920,940,960,985,1005,1025,1045,1060,1090,1125,1155],
[-94,615,640,660,680,700,720,740,760,780,800,820,840,860,880,900,925,1010,1030,1050,1075],
[-100,645,665,685,705,725,745,765,785,805,825,845,865,885,905,920,965,975,1040,1060,1070],
[-106,625,650,670,690,710,730,755,775,795,815,835,855,875,895,920,1040,1060,1075],
[-113,650,670,690,710,740,790,810,830,850,870,890,1030,1050,1070],[-120,605,650,670,690,710,745,800,820,840,860,880,910,945,1025,1045,1070],
[-127,660,680,700,720,745,810,830,850,870,890,920,1010,1030,1050,1070],[-134,670,690,710,730,820,840,860,880,900,945,1015,1035,1055,1070],
[-140,650,672,692,712,725,780,830,850,870,880,1020,1040,1055],[-146,675,695,715,755,800,850,870,1035],
[-153,675,695,715,760,820,840,860,880,925,1015,1030,1040],[-160,675,695,715,740,800,850,895,905,1005,1025,1040],
[-166,680,700,720,740,770,830,1005,1025,1040],[-172,680,700,715,750,790,815,880,1010,1030,1065],
[-182,645,680,700,720,770,815,835,860,1005,1030],[-188,680,700,715,750,770,840,890,1015,1035,1050],
[-194,645,670,690,710,855,895,1010,1030,1060],[-201,608,645,680,695,710,735,770,848,1020,1055],
[-208,685,700,715,750,765,780],[-214,680,695,715,735,770],[-221,680,700,715,745,770,855,1022],
[-228,675,695,715,730,755,778],[-237,645,680,700,715],[-239,940],[-245,675,695,715,772],
[-251,680,695,710],[-259,695,710],[-268,680,695,710],[-275,698],[-281,680,690],[-288,680],[-293,683],
[-305,683],[-312,688],[-319,705],[-343,785,855]];
const manilaMore=[
[-2,870,895,915,935,955,975,995,1050,1075,1095,1115,1135,1155,1178],
[-7,770,800,820,845,868,890,910,930,950,972,992,1085,1105,1128,1148,1168,1190],
[-13,630,652,672,692,795,815,838,858,878,898,918,938,958,978,998,1020,1082,1105,1125,1145,1165,1188],
[-18,600,620,642,662,682,702,795,815,835,855,875,895,915,935,955,975,995,1015,1035,1055,1075,1095,1115,1135,1155,1175,1192],
[-23,590,610,630,650,670,690,710,730,790,810,830,850,870,890,910,930,950,970,990,1010,1030,1050,1070,1090,1110,1130,1150,1170,1190],
[-29,590,610,630,650,670,690,710,730,750,770,790,810,830,850,870,890,910,930,950,970,990,1010,1030,1050,1070,1090,1110,1130,1150,1170,1190],
[-35,600,622,642,662,682,702,722,742,762,782,802,822,842,862,882,902,922,942,962,982,1002,1022,1042,1062,1082,1102,1122,1142,1165],
[-41,588,605,625,645,665,685,705,725,745,765,785,805,825,845,865,885,905,925,945,965,985,1005,1025,1045,1065,1085,1105,1125,1145,1165],
[-47,598,620,640,660,680,700,720,740,760,780,800,820,840,860,880,900,920,940,960,980,1000,1020,1040,1060,1080,1100,1120,1140,1160],
[-53,600,622,642,662,682,702,722,742,762,782,802,822,842,862,882,902,922,942,962,982,1002,1022,1042,1062,1082,1102,1125,1150],
[-59,605,625,645,665,685,705,725,745,765,785,805,825,845,865,885,905,925,945,965,985,1005,1025,1045,1065,1090,1125],
[-65,610,630,650,670,690,710,730,750,770,790,810,830,850,870,890,910,930,950,970,1000,1020,1040,1060,1095],
[-72,628,650,670,690,710,730,750,770,790,810,830,850,870,890,910,930,950,975,1000,1020,1040,1060,1085],
[-79,640,660,680,700,720,740,760,780,800,820,840,860,880,900,920,940,960,995,1015,1035,1055,1080],
[-85,645,668,690,710,730,750,770,790,810,830,850,870,890,910,930,950,1000,1020,1040,1055],
[-91,650,670,690,710,730,750,770,790,810,830,850,870,890,915,1020,1040,1060],
[-97,655,675,695,715,735,755,775,795,815,835,855,875,895,1035,1055,1072],
[-103,655,680,700,720,740,765,785,805,825,845,865,885,905,1045,1065],
[-110,660,680,700,725,785,805,825,845,865,885,910,1035,1055],[-117,660,680,700,725,810,830,850,870,890,1030,1050,1065],
[-124,665,685,705,725,815,835,855,875,1020,1040,1060],[-131,675,695,715,825,845,865,885,1025,1045],
[-137,680,700,720,835,855,875,1030,1050],[-143,680,700,720,845,865],[-150,680,700,720,850,870,1025],
[-157,680,700,720,855,1020,1035],[-163,685,705,725,1010,1030],[-170,685,705,725,1015,1035],
[-176,685,705,1020,1040],[-185,690,710,1025,1045],[-191,685,705,1020,1040],[-198,675,695,1020],
[-205,690,705,720],[-218,690,705],[-225,685,705],[-233,690,708],[-241,690,708],[-255,690,705]];
const manilaEvents=[[745,-13],[1038,-10]];

const japanLon=['130°','132°','134°','136','138°','140°','142°','144°','146°','148°'];
const japanLat=['33°','36°','39°','42°','45°','48°','51°','54°'];
const japanDepth=[0,-100,-200,-300,-400,-500,-600];
const hunchunLon=['110°','115°','120°','125°','130°','135°'];
const hunchunLat=['30°','35°','40°','45°','50°','55°'];
const hunchunDepth=[0,-100,-200,-300,-400,-500,-600];
const nMarianaLon=['132°','134°','136°','138°','140°','142°','144°','146°'];
const nMarianaLat=['21°','24°','27°','30°','33°','36°','39°','42°'];
const nMarianaDepth=[0,-100,-200,-300,-400,-500,-600];
const marianaLon=['136°','138°','140°','142°','144°','146°','148°'];
const marianaLat=['6°','9°','12°','15°','18°','21°','24°'];
const marianaDepth=[0,-100,-200,-300,-400,-500,-600];
const taiwanLon=['115°','120°','125°','130°','135°'];
const taiwanLat=['21°','24°','27°','30°','33°','36°'];
const taiwanDepth=[0,-50,-100,-150,-200,-250,-300,-350];
const myanmarLon=['75°','80°','85°','90°','95°','100°','105°','110°','115°'];
const myanmarLat=['15°','20°','25°','30°','35°','40°','45°','50°'];
const myanmarDepth=[0,-30,-60,-90,-120,-150,-180];
const hinduKushLon=['60°','70°','80°','90°','100°','110°'];
const hinduKushLat=['20°','25°','30°','35°','40°','45°','50°','55°'];
const hinduKushDepth=[0,-50,-100,-150,-200,-250,-300,-350,-400];
const manilaLon=['114°','116°','118°','120°','122°','124°','126°'];
const manilaLat=['12°','14°','16°','18°','20°','22°','24°','26°'];
const manilaDepth=[0,-50,-100,-150,-200,-250,-300];

// layout: crop origin, reading scale, box corners, axis ranges, text anchors
const panels=[
{name:'07 Japan',q:japanQuakes.concat(japanMore),e:japanEvents,lon:japanLon,lat:japanLat,dep:japanDepth,ox:0,oy:20,h:670,y0:140,k:1.5,lonR:[130,148,1],latR:[33,54,1.5],depM:650,depS:50,
 LT:[185,140],BT:[790,57],RT:[1462,128],FT:[905,250],LB:[232,1145],BB:[790,885],RB:[1410,1103],FB:[893,1475],dt:[50,65],nt:[115,1492],N:[1505,1085]},
{name:'08 Hunchun',q:hunchunQuakes.concat(hunchunMore),e:hunchunEvents,lon:hunchunLon,lat:hunchunLat,dep:hunchunDepth,ox:792,oy:20,h:670,y0:140,k:1.5,lonR:[110,135,2.5],latR:[30,55,2.5],depM:650,depS:50,
 LT:[163,140],BT:[768,57],RT:[1440,128],FT:[885,250],LB:[210,1145],BB:[768,885],RB:[1390,1100],FB:[873,1478],dt:[30,65],nt:[95,1492],N:[1483,1085]},
{name:'09 Northern Mariana',q:nMarianaQuakes.concat(nMarianaMore),e:nMarianaEvents,lon:nMarianaLon,lat:nMarianaLat,dep:nMarianaDepth,ox:0,oy:690,h:660,y0:132,k:1.5,lonR:[132,147,1],latR:[21,42,1.5],depM:650,depS:50,
 LT:[185,132],BT:[788,47],RT:[1462,120],FT:[905,245],LB:[232,1150],BB:[788,890],RB:[1410,1105],FB:[893,1487],dt:[50,60],nt:[115,1503],N:[1503,1090]},
{name:'10 Mariana',q:marianaQuakes.concat(marianaMore),e:marianaEvents,lon:marianaLon,lat:marianaLat,dep:marianaDepth,ox:792,oy:690,h:660,y0:132,k:1.5,lonR:[135,149,1],latR:[4.5,25.5,1.5],depM:650,depS:50,
 LT:[178,132],BT:[783,47],RT:[1455,120],FT:[897,245],LB:[226,1150],BB:[783,888],RB:[1403,1105],FB:[888,1487],dt:[45,60],nt:[112,1503],N:[1497,1088]},
{name:'11 Taiwan and Ryukyu',q:taiwanQuakes.concat(taiwanMore),e:taiwanEvents,lon:taiwanLon,lat:taiwanLat,dep:taiwanDepth,ox:0,oy:1350,h:670,y0:120,k:2.77,lonR:[112.5,137.5,2.5],latR:[21,36,1.5],depM:375,depS:25,
 LT:[180,120],BT:[788,40],RT:[1462,110],FT:[903,230],LB:[230,1130],BB:[788,872],RB:[1410,1085],FB:[890,1465],dt:[47,50],nt:[115,1480],N:[1503,1070]},
{name:'17 Myanmar',q:myanmarQuakes.concat(myanmarMore),e:myanmarEvents,lon:myanmarLon,lat:myanmarLat,dep:myanmarDepth,ox:792,oy:1350,h:670,y0:122,k:5.2,lonR:[75,115,2.5],latR:[12.5,50,2.5],depM:195,depS:15,
 LT:[162,122],BT:[768,40],RT:[1442,110],FT:[882,230],LB:[210,1130],BB:[768,872],RB:[1390,1085],FB:[875,1465],dt:[30,50],nt:[95,1480],N:[1485,1070]},
{name:'18 Hindu Kush',q:hinduKushQuakes.concat(hinduKushMore),e:hinduKushEvents,lon:hinduKushLon,lat:hinduKushLat,dep:hinduKushDepth,ox:0,oy:2020,h:687,y0:88,k:2.4,lonR:[60,110,5],latR:[17.5,55,2.5],depM:425,depS:25,
 LT:[185,88],BT:[790,8],RT:[1462,75],FT:[905,190],LB:[232,1070],BB:[790,818],RB:[1410,1025],FB:[893,1393],dt:[50,17],nt:[118,1410],N:[1505,1010]},
{name:'22 Manila',q:manilaQuakes.concat(manilaMore),e:manilaEvents,lon:manilaLon,lat:manilaLat,dep:manilaDepth,ox:792,oy:2020,h:687,y0:88,k:3.15,lonR:[113,126,1],latR:[11,26,1],depM:312,depS:25,
 LT:[165,88],BT:[770,8],RT:[1443,75],FT:[882,190],LB:[215,1072],BB:[770,820],RB:[1390,1025],FB:[875,1397],dt:[32,18],nt:[97,1410],N:[1487,1010]}
];
const RW=1560,RH=1568;

function homography(p00,p10,p11,p01){
  const [x0,y0]=p00,[x1,y1]=p10,[x2,y2]=p11,[x3,y3]=p01;
  const dx1=x1-x2,dx2=x3-x2,sx=x0-x1+x2-x3,dy1=y1-y2,dy2=y3-y2,sy=y0-y1+y2-y3;
  const den=dx1*dy2-dx2*dy1,g=(sx*dy2-dx2*sy)/den,h=(dx1*sy-sx*dy1)/den;
  const a=x1-x0+g*x1,b=x3-x0+h*x3,c=x0,d=y1-y0+g*y1,e=y3-y0+h*y3,f=y0;
  return (u,v)=>{const w=g*u+h*v+1;return [(a*u+b*v+c)/w,(d*u+e*v+f)/w];};
}
const G=echarts.graphic;
const gfx=[],grids=[],xs=[],ys=[],series=[];
function poly(pts,fill){gfx.push({type:'polygon',silent:true,z:0,shape:{points:pts},style:{fill:fill}});}
function line(a,b,c,w,z){gfx.push({type:'line',silent:true,z:z||1,shape:{x1:a[0],y1:a[1],x2:b[0],y2:b[1]},style:{stroke:c,lineWidth:w,lineCap:'round'}});}
function text(x,y,s,font,fill,al,extra){gfx.push(Object.assign({type:'text',silent:true,z:3,style:{text:s,x:x,y:y,font:font,fill:fill,textAlign:al||'left',textVerticalAlign:'middle'}},extra||{}));}
const SANS='14px "Liberation Sans"',MONO='12.5px "Liberation Mono"',TXT='#565b5e';

panels.forEach((P,idx)=>{
  const X=x=>P.ox+x*792/RW,Y=y=>P.oy+y*P.h/RH,pt=a=>[X(a[0]),Y(a[1])];
  const LT=pt(P.LT),BT=pt(P.BT),RT=pt(P.RT),FT=pt(P.FT),LB=pt(P.LB),BB=pt(P.BB),RB=pt(P.RB),FB=pt(P.FB);
  const lg=(a,b,st)=>new G.LinearGradient(a[0],a[1],b[0],b[1],st.map(c=>({offset:c[0],color:c[1]})),true);
  const rg=(c,r,st)=>new G.RadialGradient(c[0],c[1],r,st.map(s=>({offset:s[0],color:s[1]})),true);
  // walls
  poly([LT,BT,BB,LB],lg(LB,[BT[0]-30,Y(300)],[[0,'#84d4e2'],[.55,'#b4e5ec'],[1,'#d6f0f4']]));
  poly([LT,BT,BB,LB],rg(pt([600,380]),190,[[0,'rgba(232,247,249,.7)'],[1,'rgba(232,247,249,0)']]));
  poly([BT,RT,RB,BB],lg(pt([P.BB[0],P.BT[1]]),RB,[[0,'#c6dde5'],[.45,'#c8e2e9'],[.75,'#c0dfe7'],[1,'#aed5df']]));
  poly([BT,RT,RB,BB],rg(BB,95,[[0,'rgba(150,217,230,.9)'],[1,'rgba(150,217,230,0)']]));
  poly([BT,RT,RB,BB],rg(pt([1190,400]),170,[[0,'rgba(238,248,250,.95)'],[1,'rgba(238,248,250,0)']]));
  // top face
  poly([LT,BT,RT,FT],lg(LT,RT,[[0,'#63cbdf'],[.3,'#90d8e5'],[.5,'#c0e2ea'],[.75,'#b8e0e8'],[1,'#95d5e2']]));
  poly([LT,BT,RT,FT],rg(FT,85,[[0,'rgba(248,252,252,.85)'],[1,'rgba(248,252,252,0)']]));
  // floor
  poly([LB,BB,RB,FB],lg(LB,RB,[[0,'#b5e9f0'],[.45,'#c6eef3'],[1,'#e0f4f7']]));
  // front right glass
  poly([FT,RT,RB,FB],lg(FT,RT,[[0,'rgba(255,255,255,.22)'],[1,'rgba(255,255,255,.06)']]));
  // wall and floor grid
  const lw=homography(LT,BT,BB,LB),rw=homography(BT,RT,RB,BB),fl=homography(LB,FB,RB,BB);
  const nLon=v=>(v-P.lonR[0])/(P.lonR[1]-P.lonR[0]),nLat=v=>(v-P.latR[0])/(P.latR[1]-P.latR[0]),nDep=d=>-d/P.depM;
  const GC='rgba(120,170,185,.34)';
  P.lat.forEach(s=>{const u=nLat(parseFloat(s));if(u>.01&&u<.99){line(lw(u,0),lw(u,1),GC,1);line(fl(0,u),fl(1,u),GC,1);}});
  P.lon.forEach(s=>{const u=nLon(parseFloat(s));if(u>.01&&u<.99){line(rw(u,0),rw(u,1),GC,1);line(fl(u,0),fl(u,1),GC,1);}});
  P.dep.forEach(d=>{const w=nDep(d);if(w>.01){line(lw(0,w),lw(1,w),GC,1);line(rw(0,w),rw(1,w),GC,1);}});
  // box edges
  line(FT,FB,'#5f8f97',1.2);line(RT,RB,'#7ba7b0',1.4);line(LT,FT,'#4d7f88',1.5);line(RT,FT,'#8aa8ae',1.6);
  line(BT,BB,'#55848c',1.5);line(LT,BT,'#527f85',1.8);line(BT,RT,'#527f85',1.8);
  line(BB,LB,'#2c6a72',1.8);line(BB,RB,'#3a6c74',1.8);
  line(LT,LB,'#23484c',2.2);line(LB,FB,'#23484c',2.2);line(FB,RB,'#35636a',1.8);
  // ticks
  const TC='#3f4547';
  const majorSet=(arr)=>arr.map(s=>parseFloat(s));
  const lonMaj=majorSet(P.lon),latMaj=majorSet(P.lat);
  for(let v=P.lonR[0];v<=P.lonR[1]+1e-6;v+=P.lonR[2]){
    const a=fl(nLon(v),0),m=lonMaj.some(t=>Math.abs(t-v)<1e-6)||v===P.lonR[0]||v===P.lonR[1],f=m?1:.55;
    line(a,[a[0]-23*f,a[1]+10*f],TC,2);
  }
  for(let v=P.latR[0];v<=P.latR[1]+1e-6;v+=P.latR[2]){
    const a=fl(1,nLat(v)),m=latMaj.some(t=>Math.abs(t-v)<1e-6)||v===P.latR[0]||v===P.latR[1],f=m?1:.55;
    line(a,[a[0]+23*f,a[1]+12*f],TC,2);
  }
  for(let d=0;d<=P.depM+1e-6;d+=P.depS){
    const a=lw(0,d/P.depM),m=P.dep.indexOf(-d)>=0,f=m?1:.55;
    line(a,[a[0]-24*f,a[1]+(2+d/P.depM*3)*f],TC,2);
  }
  // tick labels
  P.lon.forEach((s,i)=>{const v=parseFloat(s),u=nLon(v),a=fl(u,0),last=i===P.lon.length-1;
    const ox=-34-4*u,oy=23+11*u;
    text(a[0]+ox+(last?16:0),a[1]+oy,last?s+' E':s,last?'14px "Liberation Serif"':SANS,TXT,'center');});
  P.lat.forEach(s=>{const v=nLat(parseFloat(s)),a=fl(1,v);
    text(a[0]+56-13*v,a[1]+30-7*v,s,SANS,TXT,'center');});
  P.dep.forEach(d=>{const a=lw(0,nDep(d));text(a[0]-39,a[1]+1,String(d),SANS,TXT,'right');});
  text(X(P.dt[0]),Y(P.dt[1]),'Depth (km)',MONO,TXT,'left');
  text(X(P.nt[0]),Y(P.nt[1]),P.name,MONO,TXT,'left');
  text(X(P.N[0]),Y(P.N[1]),'N','16px "Liberation Serif"','#444','center');
  // watermark
  text(FB[0]-28,FB[1]-37,'Se','italic 30px "Liberation Sans"','rgba(205,212,220,.55)','center',{rotation:.72,originX:FB[0]-28,originY:FB[1]-37});
  text(FB[0]+18,FB[1]-68,'sman','italic 19px "Liberation Sans"','rgba(205,212,220,.6)','center',{rotation:.72,originX:FB[0]+18,originY:FB[1]-68});
  // axes used by the quake marks
  grids.push({left:P.ox,top:P.oy,width:792,height:P.h});
  xs.push({type:'value',gridIndex:idx,min:0,max:RW,show:false});
  ys.push({type:'value',gridIndex:idx,min:-(RH-P.y0)/P.k,max:P.y0/P.k,show:false});
  const pts=[];P.q.forEach(r=>{for(let i=1;i<r.length;i++)pts.push([r[i],r[0]]);});
  series.push({type:'scatter',name:P.name+' quakes',xAxisIndex:idx,yAxisIndex:idx,silent:true,clip:false,animation:false,symbolSize:8.8,data:pts,z:4,
    itemStyle:{color:{type:'radial',x:.38,y:.32,r:.68,colorStops:[{offset:0,color:'#6f78ff'},{offset:.22,color:'#1f24e4'},{offset:.75,color:'#1010c4'},{offset:1,color:'#0a0a90'}]}}});
  series.push({type:'scatter',name:P.name+' main shock',xAxisIndex:idx,yAxisIndex:idx,silent:true,clip:false,animation:false,symbolSize:28,data:P.e,z:5,
    itemStyle:{color:{type:'radial',x:.42,y:.3,r:.72,colorStops:[{offset:0,color:'#ffffff'},{offset:.18,color:'#ff9a9a'},{offset:.42,color:'#f81414'},{offset:1,color:'#d80808'}]}}});
});
const chart=echarts.init(document.getElementById('c'),null,{renderer:'canvas',width:1584,height:2707});
chart.setOption({animation:false,backgroundColor:'#fff',grid:grids,xAxis:xs,yAxis:ys,series:series,graphic:{elements:gfx}});
</script></body></html>
